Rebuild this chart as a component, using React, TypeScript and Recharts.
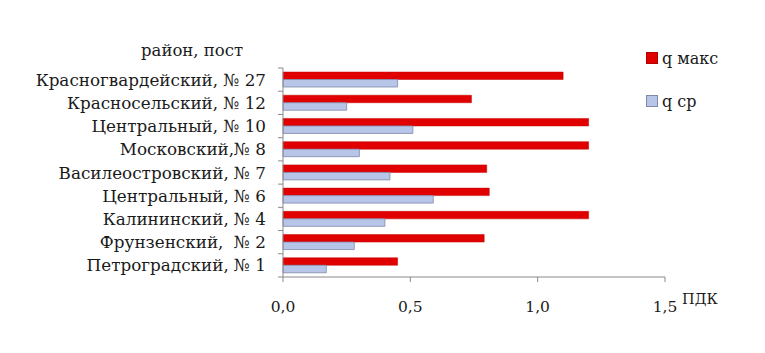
import { BarChart, Bar, XAxis, YAxis } from 'recharts'

const stations = [
  'Красногвардейский, № 27',
  'Красносельский, № 12',
  'Центральный, № 10',
  'Московский,№ 8',
  'Василеостровский, № 7',
  'Центральный, № 6',
  'Калининский, № 4',
  'Фрунзенский,  № 2',
  'Петроградский, № 1',
]
const qMax = [1.1, 0.74, 1.2, 1.2, 0.8, 0.81, 1.2, 0.79, 0.45]
const qAvg = [0.45, 0.25, 0.51, 0.3, 0.42, 0.59, 0.4, 0.28, 0.17]
const xTicks = [0, 0.5, 1, 1.5]

const data = stations.map((name, i) => ({ name, qMax: qMax[i], qAvg: qAvg[i] }))

const W = 765
const H = 353
const TOP = 68
const BOTTOM = 277
const LEFT = 283
const RIGHT = 665
const band = (BOTTOM - TOP) / stations.length
const font = "'DejaVu Serif', serif"
const axisColor = '#8a8a8a'

function StationTick(props: any) {
  const { x, y, payload, index } = props
  return (
    <g>
      <text x={x - 9} y={y} dy="0.36em" textAnchor="end" style={{ fontFamily: font, whiteSpace: 'pre' }} fontSize={16.8} fill="#1a1a1a">
        {payload.value}
      </text>
      <line x1={LEFT - 5} x2={LEFT} y1={y - band / 2} y2={y - band / 2} stroke={axisColor} />
      {index === stations.length - 1 && (
        <line x1={LEFT - 5} x2={LEFT} y1={y + band / 2} y2={y + band / 2} stroke={axisColor} />
      )}
    </g>
  )
}

function LegendBox() {
  const item = (color: string, border: string, label: string) => (
    <div style={{ display: 'flex', alignItems: 'center', height: 20, marginBottom: 23 }}>
      <span style={{ width: 10, height: 10, background: color, border: `1px solid ${border}`, marginRight: 4 }} />
      <span style={{ fontFamily: font, fontSize: 16, color: '#1a1a1a' }}>{label}</span>
    </div>
  )
  return (
    <div style={{ position: 'absolute', left: 646, top: 48 }}>
      {item('#e00000', '#b00000', 'q макс')}
      {item('#b7c5e8', '#7f8aa8', 'q ср')}
    </div>
  )
}

export default function App() {
  return (
    <div style={{ position: 'absolute', left: 0, top: 0, width: W, height: H, background: '#fff' }}>
      <BarChart
        width={W}
        height={H}
        data={data}
        layout="vertical"
        margin={{ top: TOP, right: W - RIGHT, bottom: H - BOTTOM - 30, left: 0 }}
        barGap={0}
        barSize={7.5}
      >
        <XAxis
          type="number"
          domain={[0, 1.5]}
          ticks={xTicks}
          tickFormatter={(v: number) => v.toFixed(1).replace('.', ',')}
          height={30}
          stroke={axisColor}
          tickSize={5}
          tickMargin={19}
          tick={{ fontFamily: font, fontSize: 15.5, fill: '#1a1a1a' }}
        />
        <YAxis
          type="category"
          dataKey="name"
          width={LEFT}
          stroke={axisColor}
          tickLine={false}
          tick={<StationTick />}
          interval={0}
        />
        <Bar dataKey="qMax" name="q макс" fill="#e00000" stroke="#c40000" strokeWidth={0.5} isAnimationActive={false} />
        <Bar dataKey="qAvg" name="q ср" fill="#b7c5e8" stroke="#7f8aa8" strokeWidth={0.8} isAnimationActive={false} />
      </BarChart>
      <LegendBox />
      <div style={{ position: 'absolute', left: 141, top: 41, fontFamily: font, fontSize: 16.5, color: '#1a1a1a' }}>
        район, пост
      </div>
      <div style={{ position: 'absolute', left: 682, top: 291, fontFamily: font, fontSize: 14.5, color: '#1a1a1a' }}>
        ПДК
      </div>
    </div>
  )
}
